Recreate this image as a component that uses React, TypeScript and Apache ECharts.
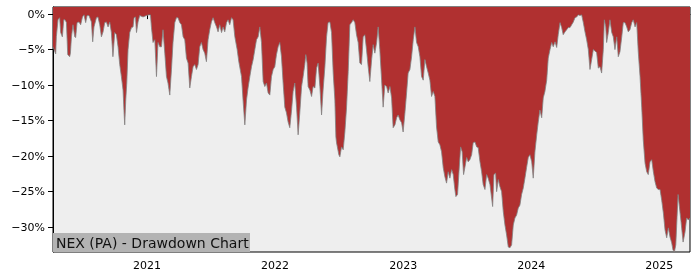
import React, { useEffect, useRef } from "react";
import * as echarts from "echarts";

// Drawdown (%) by date (fractional year), split by calendar year
const dd2020: [number, number][] = [
  [2020.266,-4.6],[2020.287,-5.6],[2020.292,-3.2],[2020.305,-0.8],[2020.318,-0.5],[2020.326,-2.6],[2020.339,-3.2],[2020.350,-0.8],[2020.360,-0.8],[2020.371,-1.2],[2020.381,-5.7],[2020.396,-6.0],[2020.402,-5.5],[2020.410,-3.2],[2020.422,-1.5],[2020.436,-3.2],[2020.443,-3.3],[2020.454,-1.2],[2020.469,-1.1],[2020.482,-1.5],[2020.496,-0.4],[2020.508,-0.1],[2020.521,-1.2],[2020.532,-0.2],[2020.547,-0.2],[2020.566,-1.1],[2020.576,-3.9],[2020.586,-1.8],[2020.605,-0.5],[2020.617,-0.4],[2020.631,-1.5],[2020.644,-3.2],[2020.657,-2.5],[2020.670,-1.2],[2020.683,-1.1],[2020.696,-1.8],[2020.709,-1.1],[2020.722,-2.6],[2020.734,-6.0],[2020.748,-2.6],[2020.761,-2.9],[2020.774,-4.6],[2020.787,-7.1],[2020.800,-8.8],[2020.813,-10.7],[2020.821,-13.9],[2020.826,-15.6],[2020.834,-12.1],[2020.842,-9.7],[2020.852,-5.0],[2020.865,-2.6],[2020.879,-1.9],[2020.891,-1.8],[2020.899,-0.5],[2020.910,-0.4],[2020.918,-2.6],[2020.930,-1.1],[2020.943,-0.2],[2020.969,-0.4],[2020.996,-0.2],
];
const dd2021: [number, number][] = [
  [2021.016,-0.1],[2021.027,-0.1],[2021.035,-1.9],[2021.047,-4.0],[2021.061,-3.6],[2021.074,-8.8],[2021.086,-4.0],[2021.100,-4.6],[2021.113,-4.6],[2021.125,-2.2],[2021.139,-5.5],[2021.152,-8.8],[2021.164,-9.7],[2021.178,-11.4],[2021.191,-7.8],[2021.203,-4.0],[2021.217,-1.2],[2021.230,-0.5],[2021.242,-0.5],[2021.256,-1.2],[2021.269,-1.5],[2021.282,-3.2],[2021.295,-3.6],[2021.308,-6.2],[2021.321,-6.9],[2021.334,-10.4],[2021.347,-8.8],[2021.360,-7.4],[2021.373,-7.1],[2021.386,-7.8],[2021.399,-7.1],[2021.412,-4.6],[2021.425,-4.0],[2021.438,-5.0],[2021.451,-5.5],[2021.464,-6.7],[2021.477,-3.6],[2021.490,-2.2],[2021.503,-1.1],[2021.516,-0.5],[2021.529,-1.2],[2021.543,-1.8],[2021.555,-2.5],[2021.568,-1.5],[2021.582,-2.6],[2021.594,-1.8],[2021.607,-2.5],[2021.621,-1.2],[2021.633,-0.8],[2021.646,-1.5],[2021.660,-0.5],[2021.672,-0.8],[2021.686,-3.2],[2021.704,-5.0],[2021.717,-6.7],[2021.738,-8.8],[2021.750,-12.1],[2021.764,-15.6],[2021.777,-12.1],[2021.789,-10.4],[2021.803,-8.8],[2021.816,-7.4],[2021.829,-6.4],[2021.842,-5.0],[2021.855,-3.6],[2021.868,-3.2],[2021.881,-1.8],[2021.894,-4.0],[2021.907,-9.5],[2021.920,-10.2],[2021.933,-9.7],[2021.946,-11.1],[2021.959,-11.4],[2021.972,-8.8],[2021.985,-7.8],[2021.998,-7.4],
];
const dd2022: [number, number][] = [
  [2022.011,-5.7],[2022.024,-4.6],[2022.037,-4.0],[2022.050,-6.0],[2022.063,-9.7],[2022.076,-13.1],[2022.089,-13.9],[2022.102,-15.2],[2022.115,-16.0],[2022.129,-13.5],[2022.141,-10.9],[2022.154,-9.7],[2022.168,-13.1],[2022.180,-17.0],[2022.193,-13.9],[2022.207,-10.2],[2022.219,-8.8],[2022.232,-7.1],[2022.240,-5.7],[2022.250,-6.9],[2022.258,-10.2],[2022.272,-10.7],[2022.285,-11.6],[2022.297,-10.2],[2022.311,-10.4],[2022.324,-7.6],[2022.336,-6.9],[2022.350,-10.2],[2022.363,-14.2],[2022.375,-10.7],[2022.389,-7.4],[2022.402,-3.2],[2022.414,-1.2],[2022.428,-1.1],[2022.441,-2.6],[2022.454,-8.3],[2022.467,-12.1],[2022.475,-17.3],[2022.480,-18.1],[2022.498,-19.8],[2022.506,-20.1],[2022.519,-18.7],[2022.532,-19.1],[2022.545,-16.6],[2022.558,-13.2],[2022.571,-8.1],[2022.584,-1.5],[2022.597,-1.2],[2022.610,-0.8],[2022.623,-1.2],[2022.636,-2.9],[2022.649,-4.0],[2022.662,-6.9],[2022.675,-7.1],[2022.688,-3.2],[2022.701,-2.9],[2022.714,-5.0],[2022.727,-7.4],[2022.740,-9.5],[2022.754,-6.4],[2022.766,-4.3],[2022.779,-5.5],[2022.793,-4.0],[2022.805,-1.8],[2022.818,-5.0],[2022.832,-9.3],[2022.844,-13.1],[2022.857,-10.0],[2022.871,-10.2],[2022.883,-11.1],[2022.897,-10.2],[2022.910,-11.8],[2022.922,-16.0],[2022.936,-15.6],[2022.949,-14.6],[2022.961,-14.2],[2022.975,-14.9],[2022.988,-15.3],
];
const dd2023: [number, number][] = [
  [2023.000,-16.6],[2023.014,-13.9],[2023.027,-11.1],[2023.039,-8.3],[2023.053,-7.8],[2023.066,-6.0],[2023.079,-3.6],[2023.092,-1.8],[2023.105,-4.0],[2023.118,-4.6],[2023.131,-6.0],[2023.144,-8.8],[2023.157,-9.3],[2023.170,-6.4],[2023.183,-7.4],[2023.196,-8.3],[2023.209,-9.3],[2023.222,-11.6],[2023.235,-10.9],[2023.248,-11.6],[2023.261,-15.9],[2023.274,-18.0],[2023.287,-18.4],[2023.300,-19.4],[2023.313,-21.6],[2023.326,-22.9],[2023.339,-23.8],[2023.352,-22.2],[2023.365,-23.1],[2023.379,-21.9],[2023.391,-22.6],[2023.404,-24.7],[2023.412,-25.7],[2023.425,-25.4],[2023.436,-22.2],[2023.449,-18.7],[2023.461,-19.4],[2023.472,-22.6],[2023.482,-21.6],[2023.496,-20.2],[2023.508,-20.8],[2023.521,-20.5],[2023.535,-19.8],[2023.547,-18.1],[2023.561,-18.0],[2023.574,-18.7],[2023.586,-18.8],[2023.600,-20.8],[2023.613,-22.2],[2023.625,-24.0],[2023.639,-24.7],[2023.652,-22.6],[2023.664,-23.1],[2023.678,-24.0],[2023.691,-25.9],[2023.699,-27.1],[2023.709,-22.6],[2023.722,-22.4],[2023.730,-25.0],[2023.743,-23.3],[2023.756,-24.3],[2023.769,-25.0],[2023.782,-27.8],[2023.795,-29.7],[2023.808,-31.1],[2023.821,-32.8],[2023.834,-32.9],[2023.847,-32.5],[2023.860,-29.7],[2023.873,-28.7],[2023.886,-28.3],[2023.899,-27.3],[2023.912,-26.9],[2023.925,-25.4],[2023.938,-24.5],[2023.951,-23.1],[2023.964,-21.6],[2023.977,-20.2],[2023.990,-19.8],
];
const dd2024: [number, number][] = [
  [2024.004,-20.8],[2024.016,-23.1],[2024.029,-19.4],[2024.043,-17.0],[2024.055,-15.2],[2024.068,-13.5],[2024.082,-14.6],[2024.094,-11.8],[2024.107,-10.9],[2024.121,-9.3],[2024.133,-6.2],[2024.147,-5.0],[2024.160,-4.0],[2024.172,-4.6],[2024.186,-3.9],[2024.199,-4.7],[2024.211,-2.9],[2024.225,-1.2],[2024.238,-1.9],[2024.250,-2.9],[2024.264,-2.5],[2024.277,-2.2],[2024.289,-1.9],[2024.303,-1.9],[2024.316,-1.5],[2024.329,-1.1],[2024.342,-0.5],[2024.355,-0.4],[2024.368,-0.1],[2024.381,-0.2],[2024.394,-0.1],[2024.407,-1.2],[2024.420,-2.5],[2024.433,-3.6],[2024.446,-5.0],[2024.459,-7.8],[2024.472,-6.4],[2024.485,-5.0],[2024.498,-5.2],[2024.511,-5.4],[2024.524,-7.6],[2024.537,-7.4],[2024.550,-8.3],[2024.563,-5.0],[2024.571,-0.8],[2024.582,-1.8],[2024.589,-4.0],[2024.602,-2.6],[2024.615,-0.8],[2024.629,-2.6],[2024.641,-3.2],[2024.654,-5.0],[2024.668,-3.2],[2024.680,-6.0],[2024.693,-5.3],[2024.707,-3.2],[2024.719,-1.2],[2024.732,-1.2],[2024.746,-1.8],[2024.758,-2.5],[2024.771,-2.2],[2024.785,-1.2],[2024.797,-0.8],[2024.811,-1.8],[2024.824,-1.2],[2024.836,-5.3],[2024.850,-8.8],[2024.863,-13.1],[2024.875,-17.7],[2024.889,-21.0],[2024.902,-22.2],[2024.914,-22.6],[2024.928,-20.8],[2024.941,-20.5],[2024.954,-22.2],[2024.967,-23.6],[2024.980,-24.5],[2024.993,-24.7],
];
const dd2025: [number, number][] = [
  [2025.006,-24.7],[2025.019,-26.2],[2025.032,-28.0],[2025.045,-30.4],[2025.058,-31.5],[2025.071,-30.1],[2025.084,-31.4],[2025.097,-32.2],[2025.107,-33.2],[2025.118,-33.5],[2025.129,-32.5],[2025.139,-28.5],[2025.147,-25.4],[2025.157,-27.1],[2025.170,-29.2],[2025.186,-32.1],[2025.201,-30.7],[2025.214,-28.7],[2025.227,-29.0],[2025.240,-28.7],
];

const xTickYears = [2021, 2022, 2023, 2024, 2025];
const yTickValues = [0, -5, -10, -15, -20, -25, -30];
const xMin = 2020.266;
const xMax = 2025.24;
const yMin = -33.5;
const yMax = 1.0;
const chartTitle = "NEX (PA) - Drawdown Chart";

const FONT = "DejaVu Sans";

export default function App() {
  const ref = useRef<HTMLDivElement>(null);
  useEffect(() => {
    if (!ref.current) return;
    const chart = echarts.init(ref.current, null, { renderer: "svg" });
    const data = [...dd2020, ...dd2021, ...dd2022, ...dd2023, ...dd2024, ...dd2025];
    chart.setOption({
      animation: false,
      grid: {
        left: 53,
        right: 10,
        top: 7,
        bottom: 28,
        show: true,
        backgroundColor: "#eeeeee",
        borderColor: "#000",
        borderWidth: 1,
      },
      xAxis: {
        type: "value",
        min: xMin,
        max: xMax,
        axisLine: { show: true, lineStyle: { color: "#000", width: 1 } },
        axisTick: { show: true, length: 5, lineStyle: { color: "#000" }, customValues: xTickYears },
        axisLabel: {
          customValues: xTickYears,
          formatter: (v: number) => String(Math.round(v)),
          color: "#000",
          fontSize: 11,
          fontFamily: FONT,
          margin: 8,
        },
        splitLine: { show: false },
      },
      yAxis: {
        type: "value",
        min: yMin,
        max: yMax,
        axisLine: { show: true, lineStyle: { color: "#000", width: 1 } },
        axisTick: { show: true, length: 5, lineStyle: { color: "#000" }, customValues: yTickValues },
        axisLabel: {
          customValues: yTickValues,
          formatter: (v: number) => (v < 0 ? "\u2212" + Math.abs(v) : String(v)) + "%",
          color: "#000",
          fontSize: 11,
          fontFamily: FONT,
          margin: 8,
        },
        splitLine: { show: false },
      },
      series: [
        {
          type: "line",
          data,
          symbol: "none",
          showSymbol: false,
          clip: true,
          lineStyle: { color: "rgba(130,130,130,0.8)", width: 1 },
          areaStyle: { color: "#b03030", opacity: 1, origin: "end" },
        },
      ],
      graphic: [
        {
          type: "rect",
          z: 100,
          shape: { x: 53, y: 233, width: 197, height: 19 },
          style: { fill: "#b3b3b3" },
        },
        {
          type: "text",
          z: 101,
          style: {
            text: chartTitle,
            x: 56,
            y: 242.5,
            fill: "#111",
            fontSize: 14,
            fontFamily: FONT,
            verticalAlign: "middle",
            align: "left",
          },
        },
      ],
    });
    return () => chart.dispose();
  }, []);
  return (
    <div
      ref={ref}
      style={{ position: "fixed", left: 0, top: 0, width: 700, height: 280 }}
    />
  );
}
